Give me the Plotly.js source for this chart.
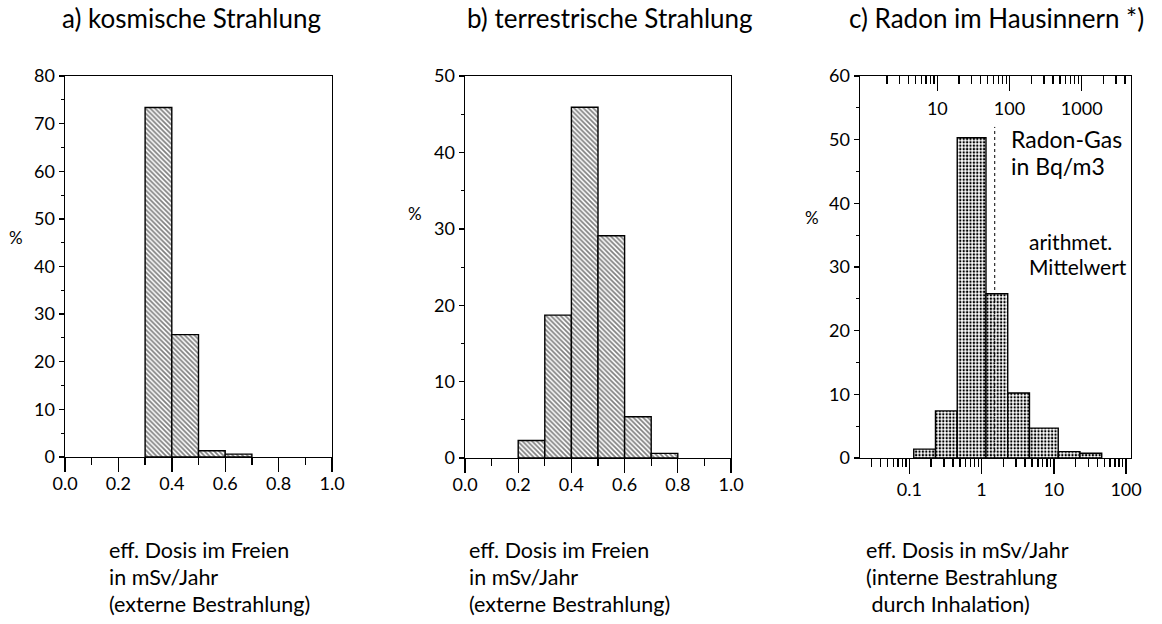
<!DOCTYPE html>
<html>
<head>
<meta charset="utf-8">
<script src="https://cdn.plot.ly/plotly-3.0.1.min.js"></script>
<style>
html,body{margin:0;padding:0;background:#fff;}
#chart{width:1162px;height:624px;}
</style>
</head>
<body>
<div id="chart"></div>
<script>
// ---- data ----
// a) cosmic radiation: bin edges (mSv/Jahr) and share (%)
const cosmicEdges = [0.3, 0.4, 0.5, 0.6, 0.7];
const cosmicPct = [73.4, 25.7, 1.3, 0.6];
// b) terrestrial radiation
const terrEdges = [0.2, 0.3, 0.4, 0.5, 0.6, 0.7, 0.8];
const terrPct = [2.3, 18.7, 45.9, 29.1, 5.4, 0.6];
// c) radon indoors: bin edges in Bq/m3, share (%)
const radonEdgesBq = [5, 10, 20, 50, 100, 200, 500, 1000, 2000];
const radonPct = [1.4, 7.4, 50.3, 25.8, 10.2, 4.7, 1.0, 0.75];
const doseFactor = 0.023;       // mSv/Jahr per Bq/m3
const radonMeanDose = 1.52;     // arithmetic mean, mSv/Jahr
const radonMeanTop = 52;        // % height of mean line

const linTickVals = [0, 0.2, 0.4, 0.6, 0.8, 1.0];
const linTickText = ['0.0', '0.2', '0.4', '0.6', '0.8', '1.0'];
const linMinor = [0.1, 0.3, 0.5, 0.7, 0.9];
const logBottomVals = [0.1, 1, 10, 100];
const logBottomText = ['0.1', '1', '10', '100'];
const logTopVals = [10, 100, 1000];
const logTopText = ['10', '100', '1000'];

const titles = ['a) kosmische Strahlung', 'b) terrestrische Strahlung', 'c) Radon im Hausinnern *)'];
const extLabel = ['eff. Dosis im Freien', 'in mSv/Jahr', '(externe Bestrahlung)'];
const intLabel = ['eff. Dosis in mSv/Jahr', '(interne Bestrahlung', '\u00a0durch Inhalation)'];
const gasLabel = ['Radon-Gas', 'in Bq/m3'];
const meanLabel = ['arithmet.', 'Mittelwert'];

// ---- helpers ----
function centers(e){ const c=[]; for(let i=0;i<e.length-1;i++) c.push((e[i]+e[i+1])/2); return c; }
function widths(e){ const w=[]; for(let i=0;i<e.length-1;i++) w.push(e[i+1]-e[i]); return w; }
function logMinor(lo, hi){ const v=[]; for(let d=lo; d<=hi; d++){ for(let m=2;m<=9;m++) v.push(m*Math.pow(10,d)); } return v; }

const FONT = 'Lato, "Open Sans", sans-serif';
const W = 1162, H = 624;
const px = v => v / W;
const py = v => 1 - v / H;

const hatch = {shape: '\\', size: 3.4, solidity: 0.5, fgcolor: '#000', bgcolor: '#fff', fillmode: 'overlay'};

const traces = [];
traces.push({
  type: 'bar', x: centers(cosmicEdges), y: cosmicPct, width: widths(cosmicEdges),
  xaxis: 'x', yaxis: 'y',
  marker: {color: '#fff', line: {color: '#000', width: 1.4}, pattern: hatch},
  hoverinfo: 'skip', showlegend: false
});
traces.push({
  type: 'bar', x: centers(terrEdges), y: terrPct, width: widths(terrEdges),
  xaxis: 'x2', yaxis: 'y2',
  marker: {color: '#fff', line: {color: '#000', width: 1.4}, pattern: hatch},
  hoverinfo: 'skip', showlegend: false
});
// c) polygons on log axis
for (let i = 0; i < radonPct.length; i++) {
  const x0 = radonEdgesBq[i] * doseFactor, x1 = radonEdgesBq[i + 1] * doseFactor, h = radonPct[i];
  traces.push({
    type: 'scatter', mode: 'lines', x: [x0, x0, x1, x1, x0], y: [0, h, h, 0, 0],
    xaxis: 'x3', yaxis: 'y3', fill: 'toself', fillcolor: '#fff',
    fillpattern: {shape: '.', size: 3.4, solidity: 0.38, fgcolor: '#000', bgcolor: '#fff'},
    line: {color: '#000', width: 1.4}, hoverinfo: 'skip', showlegend: false
  });
}
traces.push({
  type: 'scatter', mode: 'lines', x: [radonMeanDose, radonMeanDose], y: [0, radonMeanTop],
  xaxis: 'x3', yaxis: 'y3', line: {color: '#000', width: 1, dash: 'dot'},
  hoverinfo: 'skip', showlegend: false
});
// anchor trace for top Bq axis
traces.push({
  type: 'scatter', mode: 'markers', x: [100], y: [0], xaxis: 'x4', yaxis: 'y3',
  marker: {opacity: 0}, hoverinfo: 'skip', showlegend: false
});

const tickFont = {family: FONT, size: 18, color: '#000'};
function linX(domain, anchor){
  return {domain, anchor, range: [0, 1], showline: true, linecolor: '#000', linewidth: 1.4, mirror: true,
    ticks: 'outside', tickvals: linTickVals, ticktext: linTickText, ticklen: 14, tickwidth: 1.4, tickcolor: '#000',
    ticklabelstandoff: -4,
    minor: {tickvals: linMinor, ticks: 'outside', ticklen: 7, tickwidth: 1.4, tickcolor: '#000', showgrid: false},
    showgrid: false, zeroline: false, tickfont: tickFont, fixedrange: true};
}
function linY(domain, anchor, max){
  return {domain, anchor, range: [0, max], showline: true, linecolor: '#000', linewidth: 1.4, mirror: true,
    ticks: 'outside', dtick: 10, tick0: 0, ticklen: 5, tickwidth: 1.4, tickcolor: '#000',
    minor: {dtick: 5, tick0: 0, ticks: 'outside', ticklen: 3, tickwidth: 1, tickcolor: '#000', showgrid: false},
    showgrid: false, zeroline: false, tickfont: tickFont, fixedrange: true};
}

const yDom = [py(458), py(76)];
const layout = {
  width: W, height: H, margin: {l: 0, r: 0, t: 0, b: 0},
  paper_bgcolor: '#fff', plot_bgcolor: 'rgba(0,0,0,0)',
  font: {family: FONT, color: '#000'}, showlegend: false, bargap: 0,
  xaxis: linX([px(65), px(332)], 'y'),
  yaxis: linY([py(457), py(76)], 'x', 80),
  xaxis2: linX([px(465), px(731)], 'y2'),
  yaxis2: linY(yDom, 'x2', 50),
  xaxis3: {domain: [px(860), px(1131)], anchor: 'y3', type: 'log', range: [-1.683, 2.068],
    showline: true, linecolor: '#000', linewidth: 1.4, mirror: false,
    ticks: 'outside', tickvals: logBottomVals, ticktext: logBottomText, ticklen: 15, tickwidth: 1.4, tickcolor: '#000',
    minor: {tickvals: logMinor(-2, 1), ticks: 'outside', ticklen: 8, tickwidth: 1.4, tickcolor: '#000', showgrid: false},
    showgrid: false, zeroline: false, tickfont: tickFont, fixedrange: true},
  xaxis4: {overlaying: 'x3', anchor: 'y3', side: 'top', type: 'log', range: [-0.071, 3.683],
    showline: true, linecolor: '#000', linewidth: 1.4,
    ticks: 'inside', ticklabelstandoff: -48,
    tickvals: logTopVals, ticktext: logTopText, ticklen: 15, tickwidth: 1.4, tickcolor: '#000',
    minor: {tickvals: logMinor(0, 3), ticks: 'inside', ticklen: 8, tickwidth: 1.4, tickcolor: '#000', showgrid: false},
    showgrid: false, zeroline: false, tickfont: tickFont, fixedrange: true},
  yaxis3: linY(yDom, 'x3', 60),
  annotations: []
};

function ann(text, x, y, opts){
  return Object.assign({text, x: px(x), y: py(y), xref: 'paper', yref: 'paper', showarrow: false,
    xanchor: 'center', yanchor: 'middle', font: {family: FONT, size: 20, color: '#000'}}, opts || {});
}
function left(size){ return {xanchor: 'left', align: 'left', font: {family: FONT, size, color: '#000'}}; }
const A = layout.annotations;
const tf = {font: {family: FONT, size: 26, color: '#000'}};
A.push(ann(titles[0], 191, 18, tf));
A.push(ann(titles[1], 610, 18, tf));
A.push(ann(titles[2], 996, 18, tf));
const pf = {font: {family: FONT, size: 17, color: '#000'}};
A.push(ann('%', 16, 237, pf));
A.push(ann('%', 415, 213, pf));
A.push(ann('%', 812, 217, pf));
const lineY = [550, 577, 604];
for (let i = 0; i < 3; i++) {
  A.push(ann(extLabel[i], 107, lineY[i], left(21.5)));
  A.push(ann(extLabel[i], 467, lineY[i], left(21.5)));
  A.push(ann(intLabel[i], 864, lineY[i], left(21.5)));
}
A.push(ann(gasLabel[0], 1009, 139, left(23)));
A.push(ann(gasLabel[1], 1009, 166, left(23)));
A.push(ann(meanLabel[0], 1027, 242, left(21)));
A.push(ann(meanLabel[1], 1027, 266, left(21)));

Plotly.newPlot('chart', traces, layout, {displayModeBar: false, staticPlot: true});
</script>
</body>
</html>
